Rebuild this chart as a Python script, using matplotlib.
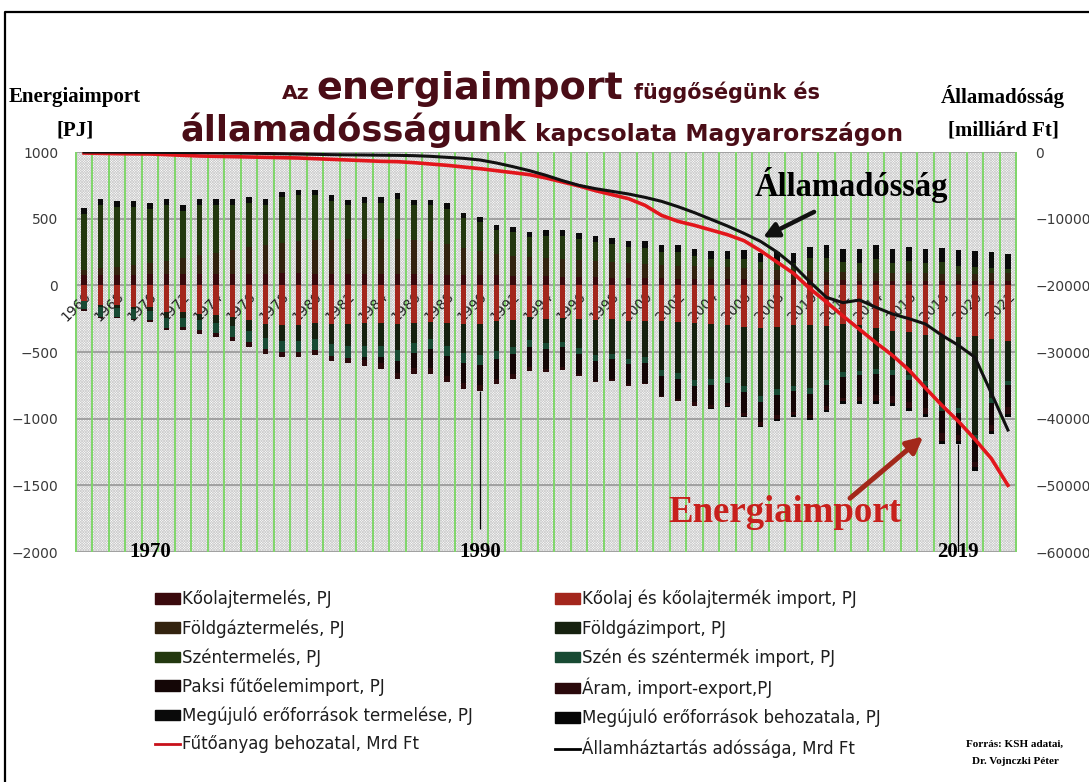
import numpy as np
import matplotlib
matplotlib.use("Agg")
import matplotlib.pyplot as plt
from matplotlib.patches import Rectangle, Patch
from matplotlib.lines import Line2D

W, H = 1089, 782
plt.rcParams["hatch.linewidth"] = 0.5

# years on the category axis
years = list(range(1966, 2023))

# production (PJ, positive part of the bars)
oil_prod = [75, 77, 78, 80, 82, 84, 85, 85, 85, 86,
            88, 88, 90, 90, 88, 88, 88, 88, 87, 86,
            84, 82, 80, 78, 76, 74, 72, 70, 68, 65,
            62, 60, 58, 56, 54, 52, 50, 48, 46, 46,
            44, 42, 40, 40, 40, 38, 37, 36, 35, 35,
            34, 34, 33, 33, 33, 34, 34]
gas_prod = [40, 50, 60, 70, 85, 100, 120, 140, 160, 180,
            200, 215, 230, 245, 250, 255, 258, 260, 262, 260,
            255, 250, 230, 200, 180, 160, 150, 140, 135, 130,
            125, 120, 115, 110, 105, 100, 95, 95, 90, 90,
            85, 80, 75, 70, 70, 65, 62, 60, 60, 58,
            56, 55, 55, 54, 54, 55, 55]
coal_prod = [422, 475, 452, 440, 407, 420, 354, 379, 359, 338,
             331, 301, 339, 339, 336, 291, 253, 271, 270, 303,
             260, 267, 264, 226, 218, 182, 175, 149, 169, 175,
             158, 142, 137, 119, 124, 99, 104, 79, 64, 62,
             72, 52, 63, 54, 93, 102, 77, 74, 100, 77,
             93, 77, 84, 61, 51, 44, 34]
renew_prod = [40, 42, 42, 42, 40, 40, 40, 40, 40, 40,
              40, 40, 40, 40, 40, 40, 40, 40, 40, 40,
              40, 40, 40, 40, 40, 40, 42, 42, 42, 44,
              44, 46, 46, 46, 48, 50, 52, 54, 56, 58,
              62, 66, 72, 76, 85, 95, 100, 100, 105, 100,
              105, 110, 110, 115, 120, 118, 115]

# imports (PJ, shown below zero)
oil_imp = [-120, -150, -150, -160, -165, -200, -200, -215, -225, -240,
           -260, -290, -300, -295, -280, -290, -290, -285, -285, -290,
           -280, -275, -285, -290, -290, -270, -260, -240, -250, -245,
           -250, -260, -255, -265, -265, -270, -275, -280, -290, -300,
           -310, -320, -315, -300, -300, -305, -290, -300, -320, -340,
           -350, -370, -380, -390, -380, -400, -414]
gas_imp = [0, -16, -18, -20, -26, -43, -44, -48, -57, -64,
           -85, -104, -116, -119, -122, -152, -167, -168, -170, -195,
           -151, -129, -172, -214, -230, -219, -202, -169, -182, -180,
           -222, -263, -257, -287, -276, -368, -383, -432, -412, -390,
           -445, -508, -464, -457, -472, -402, -357, -339, -310, -295,
           -323, -348, -525, -527, -746, -445, -301]
coal_imp = [-60, -70, -68, -70, -70, -75, -72, -75, -78, -80,
            -82, -85, -85, -85, -82, -85, -85, -82, -80, -82,
            -78, -75, -75, -78, -75, -60, -55, -50, -45, -40,
            -40, -42, -42, -40, -40, -42, -42, -45, -45, -42,
            -45, -45, -42, -38, -40, -40, -38, -36, -35, -35,
            -35, -35, -40, -38, -35, -40, -35]
paks_imp = [0, 0, 0, 0, 0, 0, 0, 0, 0, 0,
            0, 0, 0, 0, 0, 0, 0, -25, -50, -90,
            -110, -140, -150, -150, -150, -150, -150, -150, -150, -150,
            -150, -150, -150, -150, -150, -150, -150, -120, -150, -150,
            -155, -155, -155, -155, -160, -160, -160, -160, -160, -160,
            -165, -165, -165, -165, -165, -165, -165]
elec_imp = [-10, -12, -12, -13, -15, -20, -22, -25, -28, -30,
            -32, -35, -38, -40, -42, -42, -42, -42, -42, -45,
            -45, -45, -45, -45, -45, -40, -35, -30, -25, -20,
            -15, -12, -10, -10, -8, -10, -15, -25, -25, -25,
            -25, -25, -25, -25, -20, -25, -25, -35, -45, -50,
            -45, -50, -55, -45, -40, -40, -50]
renew_imp = [0, 0, 0, 0, 0, 0, 0, 0, 0, 0,
             0, 0, 0, 0, 0, 0, 0, 0, 0, 0,
             0, 0, 0, 0, 0, 0, 0, 0, 0, 0,
             0, 0, 0, 0, 0, 0, 0, 0, -5, -8,
             -10, -12, -14, -15, -18, -20, -20, -20, -22, -22,
             -22, -22, -25, -25, -25, -25, -25]

# cumulative money series (Mrd Ft, right axis)
fuel_cost = [-150, -200, -250, -280, -300, -400, -500, -600, -650, -700,
             -750, -800, -850, -900, -1000, -1100, -1200, -1300, -1400, -1450,
             -1600, -1800, -2000, -2250, -2500, -2800, -3100, -3400, -3900, -4500,
             -5100, -5800, -6400, -7000, -8000, -9500, -10400, -11000, -11700, -12400,
             -13300, -14800, -16500, -18200, -20500, -22500, -24600, -26600, -28600, -30500,
             -32700, -35400, -38000, -40400, -43100, -46000, -50000]
public_debt = [0, -10, -20, -30, -40, -60, -80, -100, -120, -150,
               -180, -220, -260, -300, -350, -400, -430, -450, -480, -500,
               -550, -650, -800, -950, -1200, -1650, -2200, -2800, -3500, -4300,
               -5000, -5500, -5900, -6300, -6800, -7400, -8200, -9100, -10100, -11100,
               -12200, -13400, -15000, -17000, -19500, -21800, -22600, -22200, -23300, -24300,
               -25000, -25800, -27500, -29000, -30800, -36200, -41700]

pos_series = [
    ("Kőolajtermelés, PJ", oil_prod, "#3a0a0d"),
    ("Földgáztermelés, PJ", gas_prod, "#33230f"),
    ("Széntermelés, PJ", coal_prod, "#23380f"),
    ("Megújuló erőforrások termelése, PJ", renew_prod, "#0a0a0a"),
]
neg_series = [
    ("Kőolaj és kőolajtermék import, PJ", oil_imp, "#a3261c"),
    ("Földgázimport, PJ", gas_imp, "#16210f"),
    ("Szén és széntermék import, PJ", coal_imp, "#184a33"),
    ("Paksi fűtőelemimport, PJ", paks_imp, "#140606"),
    ("Áram, import-export,PJ", elec_imp, "#2a090b"),
    ("Megújuló erőforrások behozatala, PJ", renew_imp, "#050505"),
]


def fx(px):
    return px / W


def fy(py):
    return 1 - py / H


fig = plt.figure(figsize=(W / 100, H / 100), dpi=100)
fig.patch.set_facecolor("white")

ax = fig.add_axes([fx(75), fy(552), fx(1017) - fx(75), fy(152) - fy(552)])
x = np.arange(len(years))

# hatched background, grid and green separators
ax.add_patch(Rectangle((0, 0), 1, 1, transform=ax.transAxes, facecolor="white",
                       edgecolor="#cdcdcd", hatch="x" * 13, lw=0, zorder=0))
for yv in range(-2000, 1001, 500):
    ax.axhline(yv, color="#a0a0a0", lw=1.4, zorder=1)
ax.vlines(np.arange(-0.5, len(years), 1), -2000, 1000, color="#7fd66a", lw=1.4, zorder=1)

bw = 0.35
bottom = np.zeros(len(years))
for name, vals, col in pos_series:
    ax.bar(x, vals, bw, bottom=bottom, color=col, zorder=2, lw=0)
    bottom += np.array(vals)
bottom = np.zeros(len(years))
for name, vals, col in neg_series:
    ax.bar(x, vals, bw, bottom=bottom, color=col, zorder=2, lw=0)
    bottom += np.array(vals)
low = bottom

# drop lines at 1990 and 2019
i90, i19 = years.index(1990), years.index(2019)
ax.vlines(i90, -1830, low[i90], color="black", lw=0.9, zorder=2)
ax.vlines(i19, -2000, low[i19], color="black", lw=0.9, zorder=2)

ax.set_xlim(-0.55, len(years) - 0.45)
ax.set_ylim(-2000, 1000)
ax.set_yticks(range(-2000, 1001, 500))
ax.tick_params(axis="y", length=0, pad=12, labelsize=10, labelcolor="#3a3a3a")
for s in ax.spines.values():
    s.set_visible(False)
ax.spines["bottom"].set_position(("data", 0))
ax.set_xticks(x[::2])
ax.set_xticklabels([str(y) for y in years[::2]], rotation=45, ha="right",
                   rotation_mode="anchor", fontsize=10, color="#222222")
ax.tick_params(axis="x", length=0, pad=3)

for yr in (1970, 1990, 2019):
    ax.text(years.index(yr), -2000, str(yr), ha="center", va="center", fontsize=15,
            fontweight="bold", family="Liberation Serif", zorder=4)

ax2 = ax.twinx()
ax2.plot(x, fuel_cost, color="#e3161c", lw=2.6, zorder=3)
ax2.plot(x, public_debt, color="#111111", lw=2.2, zorder=3)
ax2.set_ylim(-60000, 0)
ax2.set_yticks(range(-60000, 1, 10000))
ax2.tick_params(axis="y", length=0, pad=13, labelsize=10, labelcolor="#3a3a3a")
for s in ax2.spines.values():
    s.set_visible(False)

# annotations
ax.text(46.5, 750, "Államadósság", ha="center", va="center", fontsize=23.5,
        fontweight="bold", family="Liberation Serif", zorder=5)
ax.annotate("", xy=(41.0, 350), xytext=(44.4, 560),
            arrowprops=dict(arrowstyle="-|>", color="#111111", lw=3.2, mutation_scale=22),
            zorder=5)
ax.text(42.5, -1700, "Energiaimport", ha="center", va="center", fontsize=26.5,
        fontweight="bold", family="Liberation Serif", color="#c8201c", zorder=5)
ax.annotate("", xy=(51.0, -1120), xytext=(46.3, -1610),
            arrowprops=dict(arrowstyle="-|>", color="#a3281a", lw=3.6, mutation_scale=24),
            zorder=5)

# headers
hdr = dict(fontsize=15, fontweight="bold", family="Liberation Serif", ha="center", va="center")
fig.text(fx(75), fy(97), "Energiaimport", **hdr)
fig.text(fx(75), fy(131), "[PJ]", **hdr)
fig.text(fx(1003), fy(97), "Államadósság", **hdr)
fig.text(fx(1003), fy(131), "[milliárd Ft]", **hdr)

# title built from pieces of different size
TC = "#4a0d17"
fig.canvas.draw()
rend = fig.canvas.get_renderer()


def title_piece(txt, xpos, base, size=None, target=None):
    t = fig.text(fx(xpos), fy(base), txt, fontsize=size or 10, fontweight="bold", color=TC,
                 family="DejaVu Sans", ha="left", va="baseline")
    if target:
        w = t.get_window_extent(renderer=rend).width
        t.set_fontsize(10 * target / w)
    return t.get_window_extent(renderer=rend).width


small = 14.7
title_piece("Az", 282, 99, size=small)
title_piece("energiaimport", 316, 99, target=306)
title_piece("függőségünk és", 634, 99, target=186)
title_piece("államadósságunk", 180, 141, target=345)
title_piece("kapcsolata Magyarországon", 535, 141, target=368)

# legend in two columns
leg_kw = dict(frameon=False, fontsize=12, handlelength=1.5, handleheight=0.6,
              handletextpad=0.12, labelspacing=0.64, borderpad=0, borderaxespad=0)
left_h = [Patch(color=c, label=n) for n, v, c in pos_series[:3]]
left_h.append(Patch(color=neg_series[3][2], label=neg_series[3][0]))
left_h.append(Patch(color=pos_series[3][2], label=pos_series[3][0]))
left_h.append(Line2D([], [], color="#c8101a", lw=2, label="Fűtőanyag behozatal, Mrd Ft"))
right_h = [Patch(color=neg_series[k][2], label=neg_series[k][0]) for k in (0, 1, 2, 4, 5)]
right_h.append(Line2D([], [], color="black", lw=2, label="Államháztartás adóssága, Mrd Ft"))
lg1 = fig.legend(handles=left_h, loc="upper left", bbox_to_anchor=(fx(155), fy(590)), **leg_kw)
for t in lg1.get_texts():
    t.set_color("#1e1e1e")
lg2 = fig.legend(handles=right_h, loc="upper left", bbox_to_anchor=(fx(555), fy(590)), **leg_kw)
for t in lg2.get_texts():
    t.set_color("#1e1e1e")

fig.text(fx(1015), fy(744), "Forrás: KSH adatai,", ha="center", va="center", fontsize=8,
         fontweight="bold", family="Liberation Serif")
fig.text(fx(1015), fy(762), "Dr. Vojnczki Péter", ha="center", va="center", fontsize=8,
         fontweight="bold", family="Liberation Serif")

# frame line on the left and top
fig.add_artist(Line2D([fx(5), fx(5), fx(1089)], [fy(782), fy(12), fy(12)],
                      color="black", lw=1.6, transform=fig.transFigure))

fig.savefig("out.png", dpi=100)
